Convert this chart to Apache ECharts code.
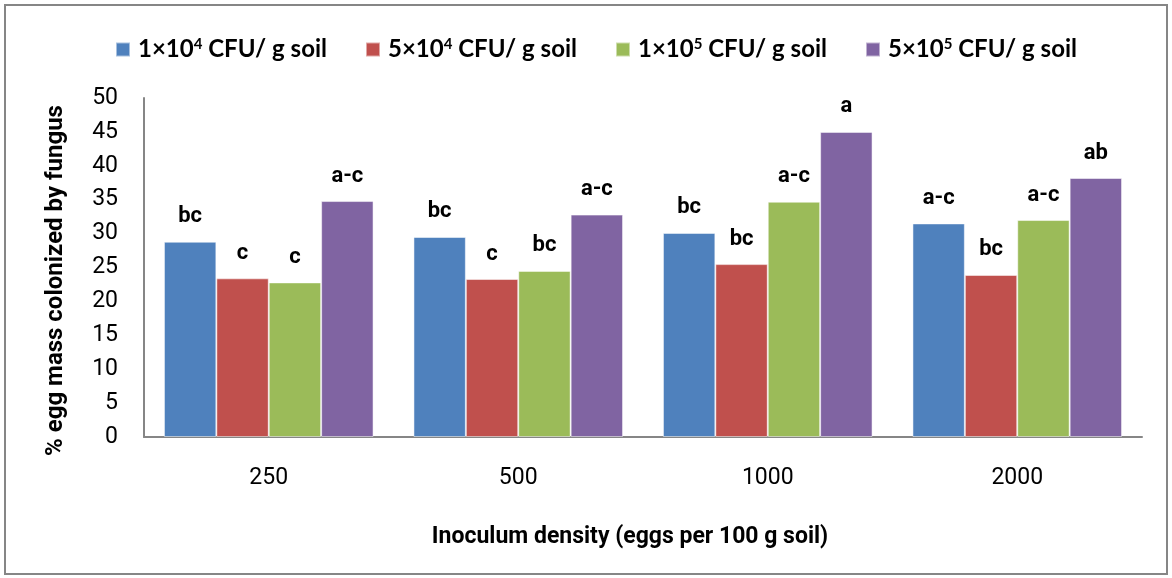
<!DOCTYPE html>
<html>
<head>
<meta charset="utf-8">
<script src="https://cdn.jsdelivr.net/npm/echarts@6/dist/echarts.min.js"></script>
<style>
  html, body { margin: 0; padding: 0; background: #fff; }
  #chart { width: 1172px; height: 578px; }
</style>
</head>
<body>
<div id="chart"></div>
<script>
  // inoculum density categories
  const categories = ['250', '500', '1000', '2000']

  // % egg mass colonized, one array per fungus dose
  const dose1e4 = [28.8, 29.5, 30.1, 31.5]
  const dose5e4 = [23.4, 23.3, 25.5, 23.9]
  const dose1e5 = [22.8, 24.5, 34.7, 32.0]
  const dose5e5 = [34.8, 32.8, 45.0, 38.2]

  // significance letters above bars
  const letters1e4 = ['bc', 'bc', 'bc', 'a-c']
  const letters5e4 = ['c', 'c', 'bc', 'bc']
  const letters1e5 = ['c', 'bc', 'a-c', 'a-c']
  const letters5e5 = ['a-c', 'a-c', 'a', 'ab']

  const seriesNames = ['1e4', '5e4', '1e5', '5e5']
  const legendText = {
    '1e4': '1×10{sup|4} CFU/ g soil',
    '5e4': '5×10{sup|4} CFU/ g soil',
    '1e5': '1×10{sup|5} CFU/ g soil',
    '5e5': '5×10{sup|5} CFU/ g soil'
  }
  const colors = ['#4f81bd', '#c0504d', '#9bbb59', '#8064a2']

  const font = 'Roboto, sans-serif'
  const legendFont = 'Lato, sans-serif'

  function makeSeries(name, values, letters, i) {
    return {
      name: name,
      type: 'bar',
      data: values,
      barGap: '0%',
      barCategoryGap: '16%',
      itemStyle: { color: colors[i], borderColor: 'rgba(255,255,255,0.5)', borderWidth: 1 },
      label: {
        show: true,
        position: 'top',
        distance: 14,
        fontFamily: font,
        fontWeight: 'bold',
        fontSize: 22,
        color: '#000',
        formatter: p => letters[p.dataIndex]
      }
    }
  }

  const chart = echarts.init(document.getElementById('chart'))
  chart.setOption({
    animation: false,
    backgroundColor: '#fff',
    color: colors,
    legend: {
      top: 32,
      left: 110,
      itemWidth: 14,
      itemHeight: 14,
      itemGap: 38,
      icon: 'rect',
      data: seriesNames,
      formatter: n => legendText[n],
      textStyle: {
        fontFamily: legendFont,
        fontWeight: 'bold',
        fontSize: 24,
        color: '#000',
        width: 186,
        padding: [0, 0, 0, 3],
        rich: {
          sup: { fontFamily: legendFont, fontWeight: 'bold', fontSize: 15, verticalAlign: 'top', padding: [0, 0, 10, 0], color: '#000' }
        }
      }
    },
    grid: { left: 144, right: 30, top: 98, bottom: 141, containLabel: false },
    xAxis: {
      type: 'category',
      data: categories,
      axisLine: { lineStyle: { color: '#868686', width: 2 } },
      axisTick: { show: false },
      axisLabel: { fontFamily: font, fontSize: 23, color: '#000', margin: 30 }
    },
    yAxis: {
      type: 'value',
      min: 0,
      max: 50,
      interval: 5,
      name: '% egg mass colonized by fungus',
      nameLocation: 'middle',
      nameGap: 76,
      nameTextStyle: { fontFamily: font, fontWeight: 'bold', fontSize: 24, color: '#000', padding: [0, 26, 0, 0] },
      axisLine: { show: true, lineStyle: { color: '#868686', width: 2 } },
      axisTick: { show: false },
      splitLine: { show: false },
      axisLabel: { fontFamily: font, fontSize: 23, color: '#000', margin: 26 }
    },
    graphic: [
      {
        type: 'rect',
        shape: { x: 5, y: 5, width: 1162, height: 569 },
        style: { fill: 'none', stroke: '#868686', lineWidth: 2 }
      },
      {
        type: 'text',
        x: 630,
        y: 537,
        style: {
          text: 'Inoculum density (eggs per 100 g soil)',
          font: 'bold 23px ' + font,
          fill: '#000',
          textAlign: 'center',
          textVerticalAlign: 'middle'
        }
      }
    ],
    series: [
      makeSeries('1e4', dose1e4, letters1e4, 0),
      makeSeries('5e4', dose5e4, letters5e4, 1),
      makeSeries('1e5', dose1e5, letters1e5, 2),
      makeSeries('5e5', dose5e5, letters5e5, 3)
    ]
  })
</script>
</body>
</html>
